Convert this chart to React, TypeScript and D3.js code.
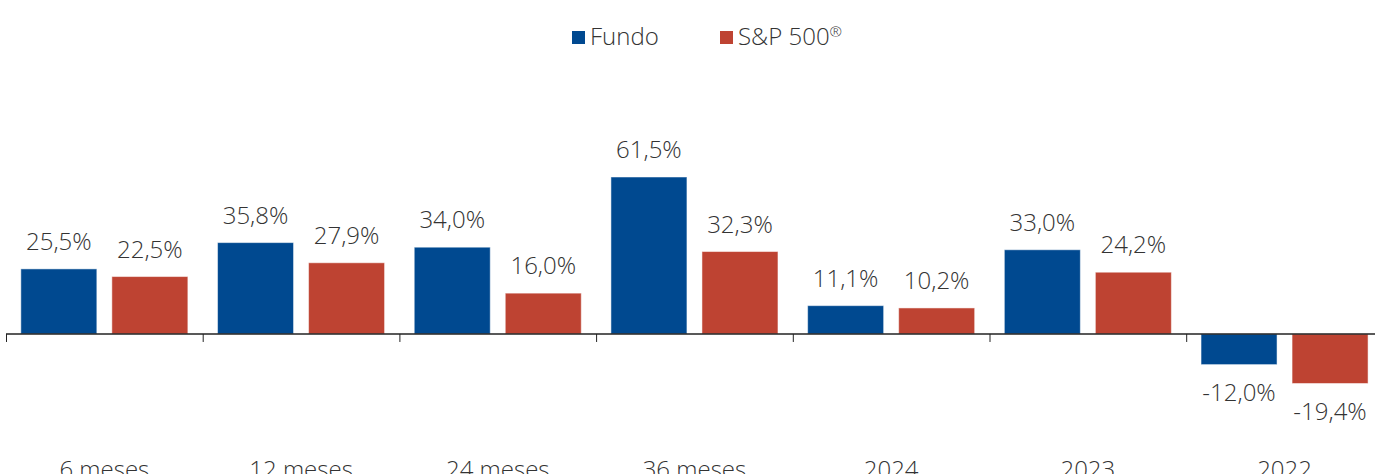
import React from 'react';
import * as d3 from 'd3';

const categories = ['6 meses', '12 meses', '24 meses', '36 meses', '2024', '2023', '2022'];
const fundo = [25.5, 35.8, 34.0, 61.5, 11.1, 33.0, -12.0];
const sp500 = [22.5, 27.9, 16.0, 32.3, 10.2, 24.2, -19.4];
const seriesNames = ['Fundo', 'S&P 500®'];
const colors = ['#004990', '#BE4332'];

const W = 1375;
const H = 474;
const font = "'Open Sans', 'Noto Sans', sans-serif";

const fmt = (v: number) => v.toFixed(1).replace('.', ',') + '%';

export default function App() {
  const x = d3.scaleBand().domain(categories).range([6, 6 + 196.7 * 7]).paddingInner(0).paddingOuter(0);
  const inner = d3.scaleBand().domain(seriesNames).range([0, x.bandwidth()]).paddingInner(0.165).paddingOuter(0.163);
  const y = d3.scaleLinear().domain([-19.4, 61.5]).range([383.5, 177]);
  const y0 = y(0);
  const data = [fundo, sp500];

  return (
    <svg width={W} height={H} style={{ position: 'absolute', left: 0, top: 0, background: '#fff' }}>
      {/* legend */}
      <g fontFamily={font} fontSize={24} fontWeight={300} fill="#333">
        <rect x={572} y={31} width={13} height={13} fill={colors[0]} />
        <text x={590} y={45}>{seriesNames[0]}</text>
        <rect x={720} y={31} width={13} height={13} fill={colors[1]} />
        <text x={738} y={45}>
          S&amp;P 500<tspan fontSize={15} dy={-8}>®</tspan>
        </text>
      </g>

      {/* bars */}
      {categories.map((c, i) => (
        <g key={c} transform={`translate(${x(c)},0)`}>
          {data.map((s, j) => {
            const v = s[i];
            const bx = inner(seriesNames[j])!;
            const top = Math.min(y(v), y0);
            const h = Math.abs(y(v) - y0);
            return (
              <g key={j}>
                <rect x={bx} y={top} width={inner.bandwidth()} height={h} fill={colors[j]} stroke="#fff" strokeOpacity={0.5} strokeWidth={1} />
                <text
                  x={bx + inner.bandwidth() / 2}
                  y={v >= 0 ? y(v) - 19 : y(v) + 36}
                  textAnchor="middle"
                  fontFamily={font}
                  fontSize={24}
                  fontWeight={300}
                  fill="#333"
                >
                  {fmt(v)}
                </text>
              </g>
            );
          })}
          <text x={x.bandwidth() / 2} y={478} textAnchor="middle" fontFamily={font} fontSize={24} fontWeight={300} fill="#333">
            {c}
          </text>
        </g>
      ))}

      {/* axis */}
      <line x1={6} x2={W} y1={y0} y2={y0} stroke="#222" strokeWidth={1.5} />
      {categories.map((c) => (
        <line key={c} x1={x(c)! + 0.5} x2={x(c)! + 0.5} y1={y0} y2={y0 + 8} stroke="#222" strokeWidth={1} />
      ))}
    </svg>
  );
}
